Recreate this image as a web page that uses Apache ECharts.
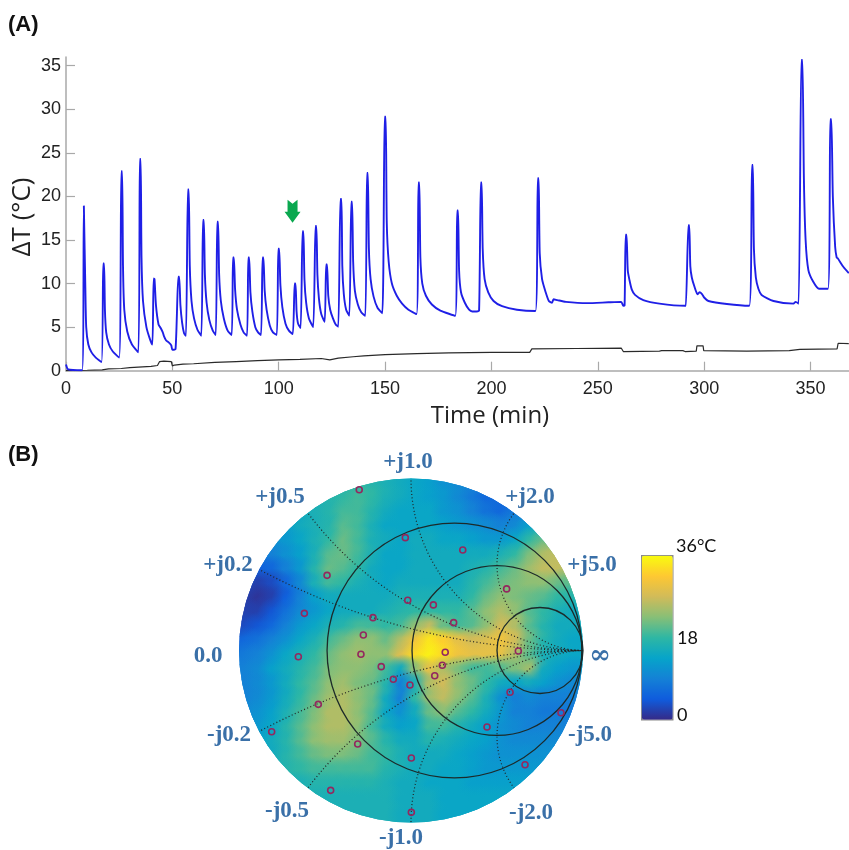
<!DOCTYPE html>
<html><head><meta charset="utf-8">
<style>html,body{margin:0;padding:0;background:#fff}#c{width:849px;height:850px}</style>
<script src="https://cdn.jsdelivr.net/npm/echarts@6/dist/echarts.min.js"></script>
</head><body><div id="c"></div>
<script>
// Panel A: time (min), delta T (deg C)
const heatingCurve = [[0,.7],[1,.15],[7.6,.05],
[8.4,18.9],[8.7,18.9],[9.1,9.5],[9.5,5],[10.5,3],[12,2.1],[14,1.5],[16.7,1],
[17.5,12.3],[17.9,12.3],[18.3,7],[18.9,4.4],[20.2,3],[22,2.2],[25,1.5],
[26,22.9],[26.4,22.9],[26.8,12],[27.4,7],[28.8,4.5],[31,3],[34,2.1],
[34.7,24.3],[35.1,24.3],[35.5,13],[36.2,8],[37.8,5],[39.5,3.6],[40.6,3],
[41.2,10.6],[41.6,10.5],[42.3,7.5],[43.5,5.3],[44.5,4.9],[45.5,4.4],[46,4],[47,3.5],[48.5,3.2],[49.5,2.9],[50,2.4],[51.5,2.5],
[52.8,10.8],[53.2,10.8],[53.8,7.5],[54.6,5.5],[55.5,4.3],[56.4,4],
[57.3,20.8],[57.7,20.8],[58.2,12],[59,8],[60.2,6],[61.8,4.7],[63.6,4],
[64.4,17.3],[64.8,17.3],[65.3,11],[66.1,7.8],[67.4,5.8],[69,4.6],[70.4,4.1],
[71.1,17.1],[71.5,17.1],[72,11],[72.8,8],[74.2,6],[76,4.6],[77.9,4.1],
[78.5,13],[78.9,13],[79.5,9.3],[80.4,7],[82,5.3],[83.5,4.4],[85.1,4],
[85.7,13],[86.1,13],[86.7,9],[87.6,6.8],[89,5],[90.3,4.4],[91.7,4.1],
[92.4,13],[92.8,13],[93.4,9.2],[94.3,7],[95.8,5.2],[97.3,4.4],[99.1,4.1],
[99.8,14],[100.2,14],[100.8,9.8],[101.7,7.3],[103.2,5.4],[104.8,4.6],[106.6,4.2],
[107.5,10],[107.9,10],[108.4,6.8],[109.1,5.4],[110.3,4.9],
[111.2,16],[111.6,16],[112.1,10.5],[112.9,7.8],[114.2,6],[116.2,5],
[117.3,16.6],[117.7,16.6],[118.2,11],[118.9,8.3],[120,6.5],[121.6,5.6],
[122.3,12.2],[122.7,12.2],[123.3,8.6],[124.2,7],[125.5,6],[126.8,5.3],[128,5.05],
[129,19.7],[129.5,19.7],[129.9,12],[130.6,8.8],[131.7,7],[133.2,6.3],
[134.1,19.4],[134.5,19.4],[135,12.5],[135.8,9.2],[137.2,7.6],[138.8,6.7],[140.7,6.3],
[141.5,22.7],[141.9,22.7],[142.4,14],[143.2,10.5],[144.6,8.5],[146.5,7.2],[148.7,6.6],
[149.8,29.15],[150.3,29.15],[150.8,17],[151.7,12.5],[153.2,10],[155.5,8.6],[158,7.7],[161,7],[164.8,6.5],
[165.7,21.6],[166.1,21.6],[166.6,13],[167.5,10],[169.2,8.6],[172,7.6],[176,6.9],[183,6.3],
[183.9,18.4],[184.3,18.4],[184.8,11.5],[185.7,9],[187.5,7.8],[189.5,7],[191,6.8],[193,6.8],[194.2,6.9],
[195,21.6],[195.4,21.6],[195.9,14],[196.8,10.5],[198.5,9],[201,8],[205,7.4],[212,7],[220.7,6.85],
[221.8,22.1],[222.2,22.1],[222.7,13.5],[223.8,10.5],[225.5,9],[227,8],[228.5,7.8],[229.2,8.2],[231,8.1],[235,7.9],[245,7.75],[255,7.85],[261,7.9],[262,7.45],[262.6,7.5],
[263.1,15.6],[263.5,15.6],[264.1,11.5],[264.9,10.4],[266,9.3],[267.5,8.7],[271.4,8.1],[279,7.7],[291,7.45],[291.4,7.45],
[292.6,16.7],[293,16.7],[293.5,12],[294.2,10.7],[295.5,9.6],[296.9,8.76],[297.8,9],[299,8.8],[300,8.4],[302,8],[310.7,7.65],[321.2,7.45],
[322.5,23.6],[322.9,23.6],[323.4,14],[324.3,10.7],[325.5,9.4],[327,8.7],[332.6,8],[342,7.7],[343,7.9],[344.4,7.7],
[345.7,35.65],[346.2,35.65],[346.9,22],[347.7,15],[349,11.55],[351.3,10.2],[354,9.4],[358.2,9.4],
[359.3,28.85],[359.8,28.85],[360.5,20],[361.6,14.2],[362.3,13],[362.8,12.9],[365.5,11.9],[368,11.2]];

const baselineCurve = [[0,0],[10,.05],[17,.1],[20,.2],[26,.25],[30,.35],[36,.45],[40,.5],[43,.6],[44,1.05],[46,1.1],[49.5,1.05],[50,.55],[51,.65],[55,.75],[60,.8],[70,.95],[80,1.05],[90,1.15],[100,1.25],[110,1.3],[120,1.4],[124,1.25],[128,1.45],[135,1.6],[140,1.7],[150,1.85],[165,1.95],[180,2.05],[200,2.1],[218,2.1],[219,2.5],[240,2.55],[261,2.6],[262,2.2],[279,2.25],[280,2.3],[290,2.3],[291,2.2],[296.3,2.25],[296.6,2.85],[299.5,2.85],[299.8,2.3],[320,2.25],[340,2.3],[345,2.45],[362.5,2.5],[363,3.15],[368,3.1]];

const ticksY = [0,5,10,15,20,25,30,35];
const ticksX = [0,50,100,150,200,250,300,350];
const arrowMark = [[106.5,18.3]];

// Panel B: Smith chart, reflection-plane coordinates
const resistanceCircles = [[.253,0,.741],[.5,0,.494],[.75,0,.25]];
const reactanceArcs = [[1,4,4],[1,-4,4],[1,2,2],[1,-2,2],[1,1,1],[1,-1,1],[1,.5,.5],[1,-.5,.5]];
const measuredPoints = [[-.301,.935],[-.033,.656],[-.488,.437],[-.62,.216],[-.019,.292],[-.221,.191],[-.277,.09],[-.291,-.022],[-.655,-.036],[.301,.584],[.556,.358],[.13,.265],[.248,.162],[.199,-.01],[.624,-.003],[-.173,-.094],[-.103,-.167],[-.006,-.201],[-.539,-.313],[-.81,-.472],[-.31,-.544],[.002,-.625],[-.467,-.813],[.002,-.941],[.182,-.086],[.138,-.147],[.576,-.243],[.442,-.445],[.872,-.362],[.663,-.664]];
const heatRows = [
[15,15,15,15,15,16,16,17,18,17,16,15,14,13,11,10,9,8,8,8,8,8,8,8],
[14,14,14,15,15,16,17,18,19,18,16,15,14,13,12,10,8,6,6,7,8,8,8,8],
[13,13,13,14,15,16,17,19,19,17,15,14,14,14,12,11,9,7,6,8,10,12,12,12],
[12,12,12,13,15,16,17,20,19,16,14,14,14,14,13,12,11,10,9,10,13,16,18,18],
[10,10,11,12,14,16,18,21,19,16,15,14,15,15,14,14,13,12,12,14,18,21,23,23],
[8,8,9,11,13,16,20,21,19,16,14,14,15,15,15,15,15,15,16,18,22,25,26,26],
[5,5,6,9,12,17,21,20,18,15,14,14,15,15,15,15,16,17,19,21,24,26,26,24],
[3,2,3,6,10,16,19,18,16,15,14,15,15,15,15,15,17,19,21,22,23,23,21,20],
[2,1,2,5,9,13,15,15,15,15,15,16,16,16,16,16,18,21,23,22,21,20,18,17],
[2,2,4,7,10,12,14,15,15,15,16,17,18,18,18,18,20,23,25,23,20,18,16,15],
[3,4,6,9,12,14,16,17,19,19,18,19,23,26,21,19,20,23,27,25,20,17,15,15],
[6,7,9,11,14,16,19,21,23,23,21,25,30,34,32,29,27,28,30,27,21,17,15,14],
[8,9,11,14,16,18,21,23,24,23,23,28,33,35,33,30,29,29,29,25,20,16,15,14],
[9,10,13,15,17,19,22,23,23,22,19,15,23,29,25,22,19,19,20,22,24,15,13,12],
[9,10,12,15,18,20,23,24,22,21,17,9,16,25,27,23,21,18,15,14,15,13,11,10],
[9,10,12,15,18,21,24,25,23,21,15,9,18,24,26,23,20,16,11,9,10,9,9,9],
[10,11,13,16,19,22,25,25,23,20,14,11,15,21,23,20,18,15,12,9,9,8,8,8],
[11,12,14,17,20,23,25,25,23,19,15,13,14,19,19,17,15,13,11,10,9,9,9,9],
[12,13,15,17,20,23,24,24,22,20,17,15,15,17,16,15,14,13,11,10,10,10,10,10],
[13,14,15,17,19,21,22,22,21,19,18,16,15,15,15,14,13,12,11,11,11,11,11,11],
[14,15,16,17,18,19,19,19,19,19,17,16,15,15,14,14,13,12,12,12,12,12,12,12],
[15,15,16,16,16,17,17,17,17,17,16,15,15,14,14,14,13,13,13,13,13,13,13,13],
[15,15,15,16,16,16,16,16,16,16,16,15,15,15,14,14,14,14,14,14,14,14,14,14],
[15,15,15,16,16,16,16,16,16,16,16,15,15,15,14,14,14,14,14,14,14,14,14,14]];
const parula = ['#352a87','#0f5cdd','#1481d6','#06a4ca','#2eb7a4','#87bf77','#d1bb59','#fec832','#f9fb0e'];
const smithLabels = [['+j1.0',408,462],['+j0.5',280,497],['+j2.0',530,497],['+j0.2',228,565],['+j5.0',592,565],['0.0',208,656],['-j0.2',229,735],['-j5.0',590,735],['-j0.5',287,811],['-j2.0',531,813],['-j1.0',401,838]];

const n = heatRows.length, m = heatRows[0].length;
const heatCells = [];
heatRows.forEach((row, j) => row.forEach((v, i) => heatCells.push([-1 + (i + .5) * 2 / m, 1 - (j + .5) * 2 / n, v])));

const chart = echarts.init(document.getElementById('c'), null, {renderer: 'canvas'});
const axisGrey = '#a9a9a9';
const sans = '"Liberation Sans", Arial, sans-serif';

function discClip(api) {
  const c = api.coord([0, 0]);
  return {type: 'circle', shape: {cx: c[0], cy: c[1], r: api.size([1, 0])[0]}};
}
function transparentOf(col) {
  const c = echarts.color.parse(col);
  return 'rgba(' + c[0] + ',' + c[1] + ',' + c[2] + ',0)';
}

chart.setOption({
  animation: false,
  backgroundColor: '#fff',
  grid: [
    {left: 66, right: 0, top: 57, height: 313.7},
    {left: 239, top: 478.5, width: 344, height: 344}
  ],
  xAxis: [
    {type: 'value', gridIndex: 0, min: 0, max: 368.1, splitLine: {show: false},
     axisLine: {lineStyle: {color: axisGrey, width: 1.5}},
     axisTick: {inside: true, length: 9, customValues: ticksX, lineStyle: {color: axisGrey, width: 1.2}},
     axisLabel: {customValues: ticksX, color: '#222', fontFamily: sans, fontSize: 18, margin: 9}},
    {type: 'value', gridIndex: 1, min: -1, max: 1, show: false}
  ],
  yAxis: [
    {type: 'value', gridIndex: 0, min: 0, max: 36, splitLine: {show: false},
     axisLine: {show: true, lineStyle: {color: axisGrey, width: 1.5}},
     axisTick: {show: true, inside: true, length: 9, customValues: ticksY, lineStyle: {color: axisGrey, width: 1.2}},
     axisLabel: {customValues: ticksY, color: '#222', fontFamily: sans, fontSize: 18, margin: 5}},
    {type: 'value', gridIndex: 1, min: -1, max: 1, show: false}
  ],
  visualMap: {
    type: 'continuous', seriesIndex: [3, 4], dimension: 2, min: 0, max: 36,
    left: 641, top: 555, itemWidth: 31, itemHeight: 164, padding: 0,
    borderColor: '#8a8a8a', borderWidth: 1.5, hoverLink: false, calculable: false,
    inRange: {color: parula}, textStyle: {color: 'transparent'}, text: ['', '']
  },
  series: [
    {type: 'line', xAxisIndex: 0, yAxisIndex: 0, data: baselineCurve, showSymbol: false, symbol: 'none',
     lineStyle: {color: '#2a2a2a', width: 1.2}, z: 3, silent: true},
    {type: 'line', xAxisIndex: 0, yAxisIndex: 0, data: heatingCurve, showSymbol: false, symbol: 'none', smooth: .22,
     lineStyle: {color: '#1f1fe6', width: 1.9}, z: 4, silent: true},
    {type: 'scatter', xAxisIndex: 0, yAxisIndex: 0, data: arrowMark, silent: true, z: 5,
     symbol: 'path://M3,0 L8,4 L13,0 L13,12 L16,12 L8,23 L0,12 L3,12 Z', symbolSize: [16, 23], itemStyle: {color: '#0aa84f', opacity: 1}},
    {type: 'custom', xAxisIndex: 1, yAxisIndex: 1, data: heatCells, silent: true, z: 1,
     encode: {x: 0, y: 1},
     renderItem(params, api) {
       const p = api.coord([api.value(0), api.value(1)]);
       const s = api.size([2 / m, 2 / n]);
       return {type: 'rect', shape: {x: p[0] - s[0] / 2 - .5, y: p[1] - s[1] / 2 - .5, width: s[0] + 1, height: s[1] + 1},
         style: {fill: api.visual('color')}, clipPath: discClip(api)};
     }},
    {type: 'custom', xAxisIndex: 1, yAxisIndex: 1, data: heatCells, silent: true, z: 2,
     encode: {x: 0, y: 1},
     renderItem(params, api) {
       const p = api.coord([api.value(0), api.value(1)]);
       const s = api.size([2 / m, 2 / n])[0] * 1.25;
       const col = api.visual('color');
       return {type: 'circle', shape: {cx: p[0], cy: p[1], r: s},
         style: {fill: new echarts.graphic.RadialGradient(.5, .5, .5, [
           {offset: 0, color: col}, {offset: .3, color: col}, {offset: 1, color: transparentOf(col)}])},
         clipPath: discClip(api)};
     }},
    {type: 'custom', xAxisIndex: 1, yAxisIndex: 1, data: reactanceArcs, silent: true, z: 6,
     encode: {x: 0, y: 1},
     renderItem(params, api) {
       const p = api.coord([api.value(0), api.value(1)]);
       return {type: 'circle', shape: {cx: p[0], cy: p[1], r: api.size([api.value(2), 0])[0]},
         style: {fill: 'none', stroke: '#222', lineWidth: 1.2, lineDash: [1, 2.4]}, clipPath: discClip(api)};
     }},
    {type: 'custom', xAxisIndex: 1, yAxisIndex: 1, data: resistanceCircles, silent: true, z: 7,
     encode: {x: 0, y: 1},
     renderItem(params, api) {
       const p = api.coord([api.value(0), api.value(1)]);
       return {type: 'circle', shape: {cx: p[0], cy: p[1], r: api.size([api.value(2), 0])[0]},
         style: {fill: 'none', stroke: '#1c2a2a', lineWidth: 1.3}};
     }},
    {type: 'scatter', xAxisIndex: 1, yAxisIndex: 1, data: measuredPoints, silent: true, z: 8,
     symbol: 'circle', symbolSize: 6, itemStyle: {color: 'transparent', borderColor: '#93285f', borderWidth: 1.6, opacity: 1}}
  ],
  graphic: [
    {type: 'text', left: 8, top: 14, style: {text: '(A)', font: 'bold 22px ' + sans, fill: '#111'}},
    {type: 'text', left: 8, top: 444, style: {text: '(B)', font: 'bold 22px ' + sans, fill: '#111'}},
    {type: 'text', x: 23, y: 217, rotation: Math.PI / 2, style: {text: 'ΔT (°C)', font: '26px "Open Sans", sans-serif', fill: '#222', align: 'center', verticalAlign: 'middle'}},
    {type: 'text', x: 490, y: 416, style: {text: 'Time (min)', font: '24px "Open Sans", sans-serif', fill: '#222', align: 'center', verticalAlign: 'middle'}},
    {type: 'text', x: 676, y: 546, style: {text: '36°C', font: '18px Lato, sans-serif', fill: '#111', verticalAlign: 'middle'}},
    {type: 'text', x: 677, y: 638, style: {text: '18', font: '18px Lato, sans-serif', fill: '#111', verticalAlign: 'middle'}},
    {type: 'text', x: 677, y: 715, style: {text: '0', font: '18px Lato, sans-serif', fill: '#111', verticalAlign: 'middle'}},
    {type: 'text', x: 600, y: 656, style: {text: '∞', font: 'bold 26px "DejaVu Serif", serif', fill: '#3a70a8', align: 'center', verticalAlign: 'middle'}}
  ].concat(smithLabels.map(l => ({type: 'text', x: l[1], y: l[2],
    style: {text: l[0], font: 'bold 23px "Liberation Serif", serif', fill: '#3a70a8', align: 'center', verticalAlign: 'middle'}})))
});
</script></body></html>
